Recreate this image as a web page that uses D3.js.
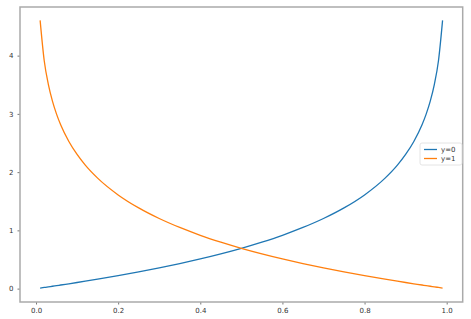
<!DOCTYPE html>
<html><head><meta charset="utf-8">
<script src="https://cdn.jsdelivr.net/npm/d3@7"></script>
<style>body{margin:0;background:#fff}svg{display:block}text{font-family:"DejaVu Sans",sans-serif}</style>
</head><body>
<script>
const xs = [0.01,0.02,0.03,0.04,0.05,0.06,0.08,0.10,0.12,0.15,0.20,0.25,0.30,0.35,0.40,0.45,0.50,0.55,0.60,0.65,0.70,0.75,0.80,0.85,0.88,0.90,0.92,0.94,0.95,0.96,0.97,0.98,0.99];
const y0Values = [0.010,0.020,0.030,0.041,0.051,0.062,0.083,0.105,0.128,0.163,0.223,0.288,0.357,0.431,0.511,0.598,0.693,0.799,0.916,1.050,1.204,1.386,1.609,1.897,2.120,2.303,2.526,2.813,2.996,3.219,3.507,3.912,4.605];
const y1Values = [4.605,3.912,3.507,3.219,2.996,2.813,2.526,2.303,2.120,1.897,1.609,1.386,1.204,1.050,0.916,0.799,0.693,0.598,0.511,0.431,0.357,0.288,0.223,0.163,0.128,0.105,0.083,0.062,0.051,0.041,0.030,0.020,0.010];
const seriesNames = ["y=0","y=1"];
const seriesColors = ["#1f77b4","#ff7f0e"];
const xTicks = [0.0,0.2,0.4,0.6,0.8,1.0];
const yTicks = [0,1,2,3,4];

const W=471,H=319;
const L=20,R=462.7,T=7,B=302;
const svg=d3.select("body").append("svg").attr("width",W).attr("height",H);
const x=d3.scaleLinear().domain([-0.039,1.039]).range([L,R]);
const y=d3.scaleLinear().domain([-0.2297,4.835]).range([B,T]);

const gx=svg.append("g").attr("transform",`translate(0,${B})`)
  .call(d3.axisBottom(x).tickValues(xTicks).tickFormat(d3.format(".1f")).tickSize(2.5).tickPadding(4));
const gy=svg.append("g").attr("transform",`translate(${L},0)`)
  .call(d3.axisLeft(y).tickValues(yTicks).tickFormat(d3.format("d")).tickSize(2.5).tickPadding(4));
[gx,gy].forEach(g=>{
  g.select(".domain").remove();
  g.selectAll(".tick line").attr("stroke","#555").attr("stroke-width",0.8);
  g.selectAll(".tick text").attr("fill","#333").style("font-size","7px");
});

svg.append("rect").attr("x",L).attr("y",T).attr("width",R-L).attr("height",B-T)
  .attr("fill","none").attr("stroke","#aaa").attr("stroke-width",1.5);

const line=d3.line().x((d,i)=>x(xs[i])).y(d=>y(d)).curve(d3.curveMonotoneX);
[y0Values,y1Values].forEach((vals,k)=>{
  svg.append("path").datum(vals).attr("d",line).attr("fill","none")
    .attr("stroke",seriesColors[k]).attr("stroke-width",1.3);
});

const lg=svg.append("g").attr("transform","translate(420,143)");
lg.append("rect").attr("width",42).attr("height",22).attr("rx",2)
  .attr("fill","#fff").attr("fill-opacity",0.8).attr("stroke","#ddd").attr("stroke-width",0.8);
seriesNames.forEach((n,k)=>{
  const yy=6.5+k*9;
  lg.append("line").attr("x1",4).attr("x2",17).attr("y1",yy).attr("y2",yy)
    .attr("stroke",seriesColors[k]).attr("stroke-width",1.3);
  lg.append("text").attr("x",21).attr("y",yy).attr("dy","0.35em")
    .attr("fill","#333").style("font-size","7px").text(n);
});
</script>
</body></html>
